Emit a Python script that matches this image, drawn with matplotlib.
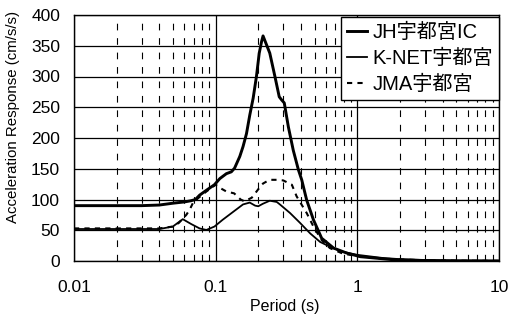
import matplotlib
matplotlib.use("Agg")
import matplotlib.pyplot as plt
from matplotlib.font_manager import FontProperties
import numpy as np

plt.rcParams['font.family'] = ['Liberation Sans', 'Noto Sans CJK JP', 'DejaVu Sans']

# ---- data ----
jh_period = [0.01, 0.02, 0.03, 0.04, 0.05, 0.06, 0.067, 0.072, 0.077, 0.086, 0.098,
             0.107, 0.119, 0.129, 0.136, 0.148, 0.156, 0.165, 0.174, 0.184, 0.194,
             0.203, 0.211, 0.216, 0.241, 0.262, 0.281, 0.292, 0.305, 0.326, 0.353,
             0.384, 0.405, 0.439, 0.49, 0.56, 0.68, 0.84, 1.05, 1.8, 3.0, 5.0, 10.0]
jh_value = [90, 90, 90, 91, 94, 96, 98, 100, 107, 115, 124,
            134, 142, 145, 151, 170, 186, 207, 237, 265, 300,
            338, 357, 366, 338, 300, 267, 262, 257, 218, 180,
            148, 132, 99, 67, 37, 21, 13, 7, 2, 0.8, 0.3, 0.1]

knet_period = [0.01, 0.02, 0.03, 0.04, 0.0498, 0.0586, 0.0673, 0.077, 0.086, 0.098,
               0.112, 0.133, 0.156, 0.174, 0.19, 0.2, 0.215, 0.241, 0.27, 0.284,
               0.335, 0.394, 0.464, 0.546, 0.643, 0.79, 1.0, 1.5, 2.0, 3.0, 5.0, 10.0]
knet_value = [52, 52, 52, 52, 56, 68, 60, 53, 50.5, 56,
              67, 80, 92, 95, 90, 89, 93, 98, 96, 92,
              78, 62, 45, 31, 23, 15, 10, 5, 3, 1.5, 0.6, 0.2]

jma_period = [0.01, 0.02, 0.03, 0.04, 0.0498, 0.055, 0.062, 0.0654, 0.069, 0.075,
              0.086, 0.1, 0.107, 0.119, 0.135, 0.15, 0.16, 0.18, 0.205, 0.216,
              0.24, 0.27, 0.3, 0.345, 0.373, 0.439, 0.49, 0.56, 0.64, 0.79, 1.0,
              1.5, 2.0, 3.0, 5.0, 10.0]
jma_value = [53, 53, 53, 53, 56, 62, 75, 83, 94, 102,
             113, 124, 119, 113, 110, 100, 97, 103, 120, 126,
             132, 132, 131, 124, 105, 78, 56, 34, 21, 12, 8,
             4, 2.5, 1.2, 0.5, 0.2]

series_labels = ['JH宇都宮IC', 'K-NET宇都宮', 'JMA宇都宮']
x_ticks = [0.01, 0.1, 1, 10]
x_tick_labels = ['0.01', '0.1', '1', '10']
y_ticks = [0, 50, 100, 150, 200, 250, 300, 350, 400]

# ---- figure ----
fig = plt.figure(figsize=(5.21, 3.23), dpi=100)
ax = fig.add_axes([74/521, 1-261/323, (499-74)/521, (261-15)/323])

ax.set_xscale('log')
ax.set_xlim(0.01, 10)
ax.set_ylim(0, 400)

ax.plot(jh_period, jh_value, color='black', lw=2.1, label=series_labels[0], zorder=5)
ax.plot(knet_period, knet_value, color='black', lw=1.3, label=series_labels[1], zorder=5)
ax.plot(jma_period, jma_value, color='black', lw=1.5, linestyle=(0, (2.5, 2.5)),
        label=series_labels[2], zorder=5)

ax.set_xticks(x_ticks)
ax.set_xticklabels(x_tick_labels)
ax.set_yticks(y_ticks)
ax.tick_params(axis='both', which='both', length=0, labelsize=12.5)
ax.tick_params(axis='x', pad=14)
ax.tick_params(axis='y', pad=10)

ax.grid(True, which='major', color='black', lw=0.9)
ax.grid(True, which='minor', axis='x', color='black', lw=0.8, linestyle=(0, (6, 7)))
ax.grid(False, which='minor', axis='y')
ax.set_axisbelow(True)
for s in ax.spines.values():
    s.set_linewidth(1.0)
    s.set_color('black')

ax.set_xlabel('Period (s)', fontsize=11.5)
ax.xaxis.set_label_coords(0.495, -0.155)
ax.set_ylabel('Acceleration Response (cm/s/s)', fontsize=10.8)
ax.yaxis.set_label_coords(-0.128, 0.585)

leg = ax.legend(loc='upper right', bbox_to_anchor=(1.0, 0.993), frameon=True,
                fancybox=False, edgecolor='black', framealpha=1,
                prop=FontProperties(family=['Liberation Sans', 'Noto Sans CJK JP'], size=14.5),
                handlelength=1.0, handletextpad=0.25, labelspacing=0.35,
                borderpad=0.3, borderaxespad=0.0)
leg.get_frame().set_linewidth(1.0)
leg.set_zorder(10)

fig.savefig('out.png', dpi=100)
